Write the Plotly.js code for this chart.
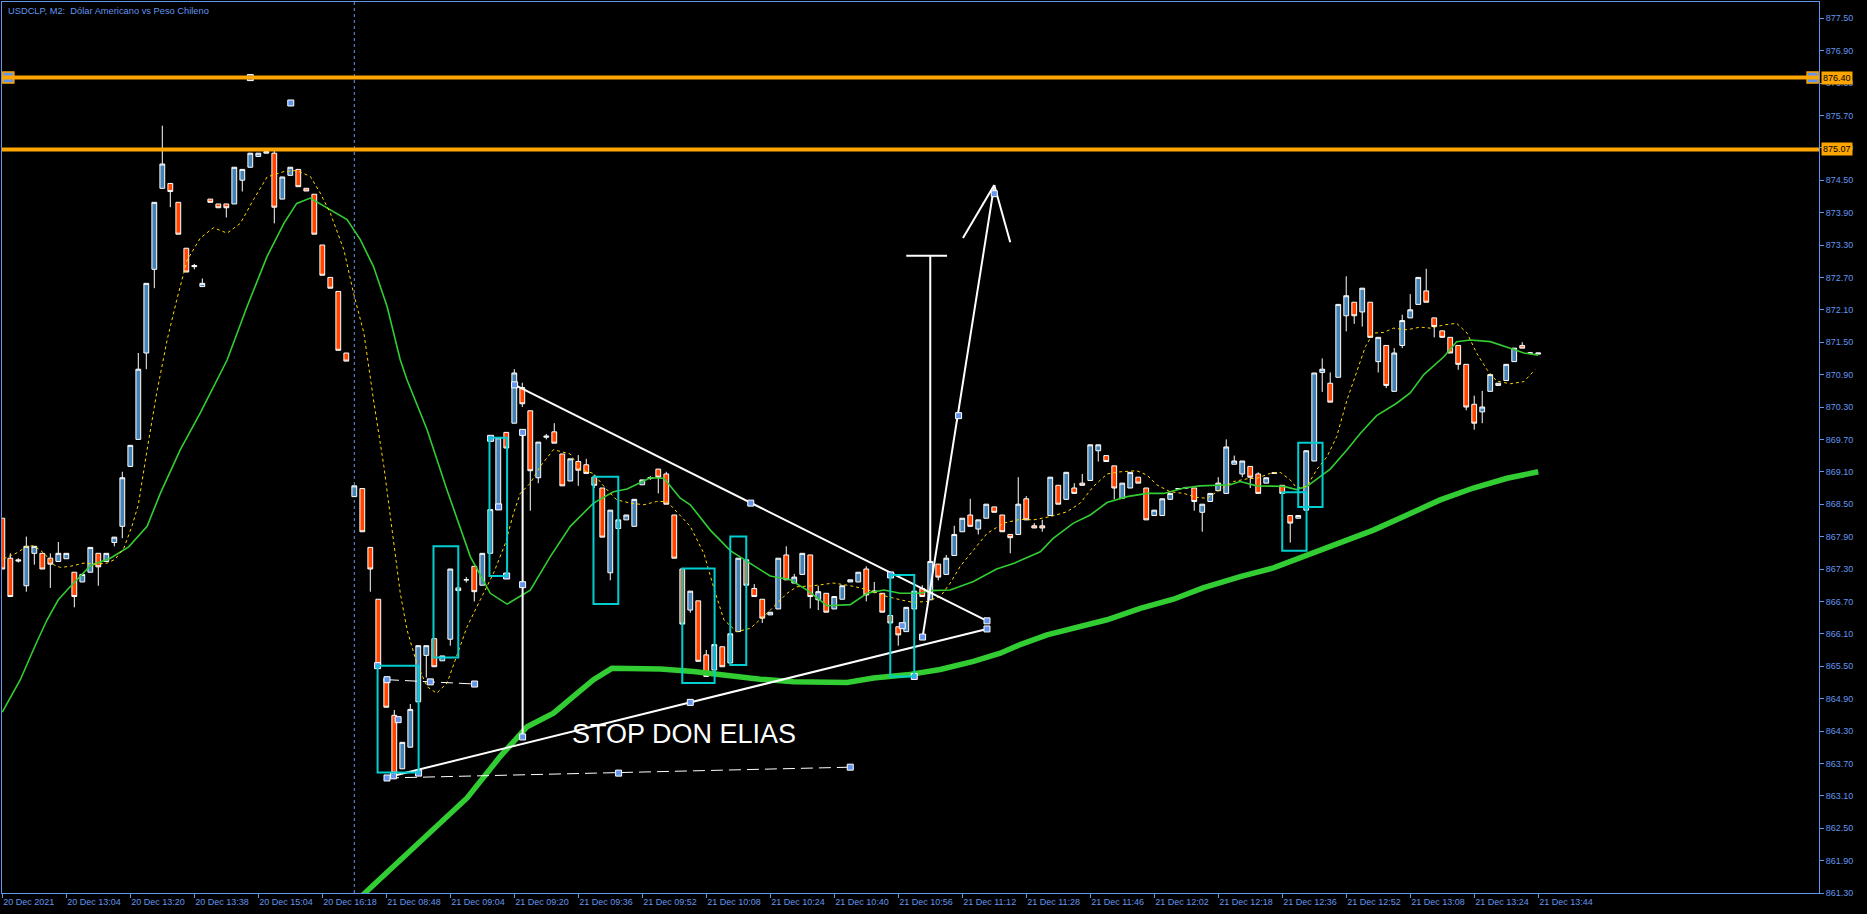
<!DOCTYPE html>
<html><head><meta charset="utf-8">
<script src="https://cdn.plot.ly/plotly-3.0.1.min.js"></script>
<style>html,body{margin:0;padding:0;background:#000;}#chart{width:1867px;height:914px;}</style>
</head><body><div id="chart"></div>
<script>
// ---------- candle data (bar index 0..192) ----------
const opens = [868.24,867.50,867.47,866.99,867.59,867.59,867.50,867.44,867.49,867.24,
867.06,867.24,867.59,867.44,867.79,868.09,869.20,869.70,871.30,872.85,
874.35,874.44,874.09,873.24,872.92,872.53,874.15,874.06,874.06,874.06,
874.50,874.74,874.94,875.00,875.00,874.15,874.59,874.70,874.35,874.24,
873.30,872.70,872.44,871.30,868.64,868.79,867.70,866.74,865.27,864.59,
863.60,864.00,864.84,865.70,866.01,865.60,866.00,866.95,867.10,867.35,
867.00,867.59,868.40,869.83,870.00,870.66,870.23,868.99,869.74,869.84,
869.43,868.93,869.29,869.23,869.00,868.80,867.23,868.05,868.21,868.09,
868.86,868.98,869.15,869.06,868.30,867.30,866.54,866.71,865.71,865.43,
865.86,865.56,866.14,867.47,866.94,866.74,866.45,866.56,867.56,867.04,
867.20,867.56,866.73,866.85,866.56,866.74,867.06,867.06,867.30,866.87,
866.85,866.44,866.23,866.14,866.56,866.94,866.73,867.39,867.20,867.55,
867.99,868.30,868.04,868.24,868.45,868.30,867.94,867.94,868.60,868.10,
868.10,868.29,868.85,868.59,868.80,868.89,868.94,869.49,869.40,869.21,
868.61,868.80,869.00,868.80,868.29,868.29,868.59,868.78,868.80,868.80,
868.35,868.55,868.75,868.70,869.24,869.06,869.20,869.06,868.89,869.07,
868.85,868.29,868.24,868.39,869.30,870.94,870.74,870.85,871.99,872.24,
872.06,872.24,871.14,871.44,870.59,871.44,871.95,872.20,872.45,871.95,
871.71,871.59,871.44,871.09,870.35,870.21,870.59,870.70,870.79,871.14,
871.44,871.30,871.28];
const highs = [868.24,867.59,867.50,867.90,867.72,867.59,867.59,867.80,867.59,867.24,
867.20,867.70,867.59,867.59,867.89,869.10,869.59,871.30,872.59,874.09,
875.51,874.44,874.09,873.24,872.95,872.68,874.15,874.06,874.06,874.74,
874.70,875.00,875.00,875.03,875.05,874.56,874.74,874.70,874.35,874.24,
873.30,872.70,872.44,871.30,868.84,868.79,867.70,866.74,865.27,864.69,
864.09,864.80,865.88,865.88,866.01,865.69,867.30,867.05,867.15,867.35,
867.59,868.40,869.73,869.83,871.00,870.75,870.23,869.65,869.80,870.00,
869.43,869.34,869.41,869.34,869.05,868.80,868.39,868.21,868.30,868.59,
868.95,869.02,869.15,869.10,868.30,867.30,866.89,866.71,865.80,865.90,
865.86,866.10,867.50,867.47,867.02,866.74,866.50,867.50,867.72,867.21,
867.59,867.56,866.99,866.85,866.79,866.99,867.10,867.24,867.35,867.06,
866.85,866.44,866.23,866.59,866.89,867.00,867.44,867.39,867.56,868.10,
868.24,868.60,868.21,868.50,868.45,868.30,867.94,869.00,868.65,868.15,
868.21,869.00,868.85,869.09,868.89,869.06,869.60,869.60,869.40,869.21,
868.89,869.09,869.00,868.80,868.39,868.60,868.70,868.80,868.82,868.80,
868.50,868.70,869.00,869.70,869.40,869.30,869.20,869.09,868.99,869.09,
868.85,868.29,868.29,869.49,870.93,871.20,870.94,872.20,872.72,872.24,
872.50,872.24,871.59,871.44,871.39,872.01,872.39,872.70,872.86,871.95,
871.71,871.59,871.44,871.09,870.51,870.60,870.90,870.74,871.09,871.39,
871.50,871.32,871.30];
const lows = [867.30,866.79,867.42,866.88,867.38,867.30,866.95,867.44,867.49,866.59,
867.06,867.24,866.99,867.44,867.72,867.87,869.20,869.70,871.00,872.50,
874.35,874.00,873.50,872.80,872.85,872.53,874.09,873.99,873.81,874.06,
874.29,874.74,874.94,875.00,873.70,874.15,874.59,874.38,874.30,873.50,
872.74,872.50,871.35,871.15,868.64,867.99,866.88,865.52,864.74,863.46,
863.60,864.00,864.84,865.29,865.49,865.60,865.88,866.85,867.05,866.70,
867.00,867.59,868.40,869.54,870.00,870.30,868.38,868.89,869.70,869.63,
868.84,868.93,868.84,869.07,868.80,867.89,867.09,868.05,868.21,868.09,
868.86,868.95,868.70,868.50,867.50,866.28,866.49,865.59,865.31,865.43,
865.49,865.56,866.14,867.00,866.79,866.30,866.45,866.56,867.10,867.04,
867.20,866.57,866.54,866.50,866.56,866.74,867.06,867.06,866.70,866.85,
866.50,866.30,865.88,866.14,866.56,866.79,866.73,867.09,867.20,867.55,
867.99,868.09,867.94,868.24,868.35,867.99,867.59,867.94,868.21,868.06,
867.99,868.29,868.50,868.59,868.70,868.85,868.94,869.29,869.29,868.59,
868.61,868.80,868.89,868.21,868.29,868.29,868.59,868.78,868.78,868.38,
867.99,868.55,868.75,868.70,869.24,869.00,868.80,868.70,868.89,869.07,
868.70,867.79,868.24,868.39,869.30,870.58,870.39,870.85,871.70,871.84,
871.79,871.59,870.94,870.65,870.59,871.39,871.95,872.20,872.24,871.59,
871.59,871.30,870.99,870.24,869.88,870.00,870.59,870.70,870.79,871.14,
871.39,871.28,871.28];
const closes = [867.30,866.79,867.45,867.72,867.72,867.30,867.39,867.59,867.59,866.79,
867.20,867.70,867.34,867.59,867.89,868.99,869.59,871.00,872.59,874.09,
874.80,874.29,873.50,872.80,872.90,872.59,874.09,873.99,873.99,874.74,
874.70,875.00,875.00,875.03,874.00,874.56,874.74,874.38,874.30,873.50,
872.74,872.50,871.35,871.15,868.84,867.99,867.30,865.52,864.74,863.52,
864.09,864.70,865.88,865.88,865.49,865.69,867.30,866.90,867.10,866.88,
867.59,868.40,869.73,869.54,870.93,870.36,869.12,869.65,869.76,869.63,
868.84,869.34,869.13,869.07,868.85,867.89,868.39,868.21,868.30,868.59,
868.95,868.99,869.00,868.50,867.50,866.28,866.89,865.59,865.31,865.90,
865.49,866.10,867.50,867.00,866.79,866.39,866.50,867.50,867.10,867.15,
867.59,866.79,866.88,866.50,866.79,866.99,867.10,867.24,866.82,866.89,
866.50,866.30,866.08,866.59,866.89,866.79,867.44,867.15,867.50,867.94,
868.24,868.09,868.21,868.50,868.35,867.99,867.88,868.50,868.21,868.06,
868.06,869.00,868.50,869.09,868.70,868.85,869.60,869.60,869.29,868.80,
868.89,869.09,868.89,868.21,868.39,868.60,868.70,868.79,868.81,868.55,
868.50,868.70,868.89,869.56,869.30,869.30,869.00,868.70,868.99,869.08,
868.70,868.15,868.29,869.49,870.93,871.00,870.39,872.20,872.36,871.99,
872.50,871.59,871.59,870.70,871.30,871.90,872.10,872.70,872.24,871.79,
871.59,871.30,871.09,870.30,870.00,870.30,870.90,870.74,871.09,871.39,
871.39,871.30,871.30];

// ---------- time axis labels (every 8 bars) ----------
const tickLabels = ["20 Dec 2021","20 Dec 13:04","20 Dec 13:20","20 Dec 13:38","20 Dec 15:04","20 Dec 16:18",
"21 Dec 08:48","21 Dec 09:04","21 Dec 09:20","21 Dec 09:36","21 Dec 09:52","21 Dec 10:08","21 Dec 10:24",
"21 Dec 10:40","21 Dec 10:56","21 Dec 11:12","21 Dec 11:28","21 Dec 11:46","21 Dec 12:02","21 Dec 12:18",
"21 Dec 12:36","21 Dec 12:52","21 Dec 13:08","21 Dec 13:24","21 Dec 13:44"];
const tickStep = 8;
const daySeparatorBar = 44;

// ---------- moving averages (read at sample bars) ----------
const fastMaX = [0.16,1.7,3.1,3.9,4.75,5.6,6.4,7.25,8.5,10.2,11.8,13.1,14.1,15.2,16.2,17.0,18.1,19.3,20.6,21.8,23.1,24.75,26.4,28.1,29.75,31.4,33.1,35.2,36.8,38.5,39.75,41,42.7,43.9,45.2,46.4,47.7,48.9,49.75,50.6,51.8,53.1,54.3,55.6,56.8,58.1,59.75,61.4,62.9,63.9,64.75,66,67.25,68.9,71,72.25,73.9,75.2,76.8,78.5,80.2,81.8,83.1,84.3,86,87.7,88.9,90.2,91.8,93.5,95.6,98.1,99.3,101.4,103.9,106,107.25,108.9,110.6,112.25,113.9,115.6,117.25,118.5,119.75,121.4,123.1,125.2,127.25,128.9,131,133.1,134.75,136.4,138.1,139.75,141.8,143.1,144.3,146,147.7,149.1,150.6,152.25,153.9,155.6,156.8,158.5,159.75,161,161.8,163.1,164.3,165.6,166.8,168.1,169.3,170.4,171.4,172.7,173.9,175.6,177.25,178.5,180.2,181.8,183.1,184.3,185.6,186.8,188.5,190.2,191.6];
const fastMaY = [867.49,867.59,867.72,867.73,867.65,867.53,867.38,867.33,867.35,867.41,867.39,867.41,867.48,867.69,868.09,868.49,869.51,870.56,871.54,872.28,873.02,873.43,873.62,873.52,873.70,874.14,874.56,874.66,874.68,874.57,874.26,873.89,873.21,872.41,871.67,870.43,869.20,867.84,866.85,866.17,865.56,865.12,865.00,865.19,865.68,866.23,866.73,867.22,867.78,868.33,868.70,868.89,869.20,869.51,869.43,869.14,869.07,868.83,868.58,868.52,868.49,868.55,868.55,868.36,868.09,867.59,866.97,866.36,866.14,866.20,866.48,866.85,866.97,866.99,867.04,866.99,866.95,866.88,866.79,866.73,866.68,866.70,866.79,867.04,867.35,867.65,867.96,868.15,868.22,868.21,868.27,868.36,868.52,868.83,869.06,869.10,869.12,869.04,868.86,868.73,868.70,868.63,868.61,868.77,868.92,868.97,868.98,869.07,869.09,868.95,868.80,868.83,869.14,869.38,869.75,870.43,870.93,871.42,871.67,871.68,871.76,871.73,871.78,871.76,871.82,871.85,871.67,871.30,870.99,870.78,870.73,870.77,870.99];

const midMaX = [0,2.25,4.25,5.6,7.0,8.1,11.0,13.5,15.8,18.1,19.75,22.25,24.75,28.1,30.6,33.1,35.2,36.8,38.5,40.6,43.1,44.75,46.4,48.1,49.75,50.6,53.1,55.6,58.5,61,63.1,66,68.5,71,73.9,76.4,78.1,81,82.7,84.75,86,88.5,91,93.1,96,98.5,100.6,103.1,106,108.1,110.2,112.25,114.75,116,118.5,121.4,124.3,126.4,129.75,131.4,133.9,136,138.1,140.6,143.1,145.2,147.7,149.75,153.5,154.75,156.8,160.2,161.8,163.1,166,168.1,169.75,171.8,174.3,176,177.7,180.2,181.8,183.5,186,188.5,190.2,192];
const midMaY = [864.65,865.25,865.93,866.36,866.73,866.91,867.36,867.50,867.71,868.09,868.70,869.51,870.19,871.17,872.16,873.09,873.70,874.07,874.17,873.98,873.77,873.40,872.90,872.16,871.17,870.80,869.88,868.76,867.53,866.85,866.65,866.91,867.53,868.09,868.52,868.73,868.78,868.99,868.98,868.61,868.49,868.02,867.64,867.44,867.17,867.10,866.91,866.62,866.64,866.85,866.91,866.85,866.85,866.90,866.91,867.07,867.30,867.40,867.62,867.87,868.15,868.30,868.53,868.64,868.70,868.70,868.80,868.84,868.86,868.92,868.84,868.83,868.77,868.83,869.15,869.51,869.81,870.14,870.37,870.56,870.90,871.23,871.51,871.54,871.51,871.39,871.30,871.26];

const slowMaX = [44,45.1,58.1,62.25,65.6,68.9,71.4,73.9,76.2,82.25,86.4,90.6,94.75,98.9,103.1,105.6,108.9,113.1,117.25,121.4,124.75,127.25,130.6,133.9,138.1,142.25,146.4,150.1,154.75,158.9,163.1,167.25,171.4,175.6,179.75,183.9,188.1,192];
const slowMaY = [861.11,861.27,863.06,863.83,864.38,864.63,864.94,865.25,865.46,865.45,865.40,865.32,865.26,865.21,865.19,865.20,865.28,865.34,865.44,865.59,865.74,865.90,866.08,866.20,866.36,866.57,866.74,866.95,867.16,867.32,867.56,867.78,868.02,868.30,868.58,868.80,868.98,869.10];

// ---------- drawn objects ----------
const hLevels = [876.40, 875.07];
const hLevelLabels = ["876.40", "875.07"];
// rectangles: bar index range and price range
const boxX0 = [46.91,53.9,60.9,73.9,85.0,91.0,111.0,160.0,162.0];
const boxX1 = [52.04,57.0,63.1,77.0,89.04,93.0,114.0,163.04,165.04];
const boxY0 = [865.51,867.72,869.73,869.01,867.31,867.90,867.19,868.72,869.64];
const boxY1 = [863.53,865.66,867.17,866.65,865.19,865.52,865.31,867.64,868.45];
// solid white lines (pairs of points)
const solidX = [[64.04,123.09],[48.91,123.09],[65.04,65.04],[116.0,116.0],[113.0,118.1],[115.04,124.0],[124.0,120.09],[124.0,126.0]];
const solidY = [[870.71,866.34],[863.47,866.19],[869.83,864.19],[873.10,867.43],[873.10,873.10],[866.04,874.41],[874.41,873.43],[874.41,873.35]];
// dashed white lines
const dashX = [[48.09,106.0],[48.09,59.04]];
const dashY = [[863.43,863.63],[865.25,865.17]];
// selection handles
const handleX = [48.09,77.04,106.0,48.09,53.5,59.04,46.91,52.04,49.48,61.04,63.04,62.04,111.04,114.0,112.5,65.04,65.04,65.04,64.04,93.56,123.09,48.91,86.0,123.09,115.04,119.54,124.0,31.0,36.06];
const handleY = [863.43,863.52,863.63,865.25,865.21,865.17,865.51,863.52,864.51,869.72,867.17,868.45,867.19,865.31,866.25,869.83,867.01,864.19,870.71,868.52,866.34,863.47,864.83,866.19,866.04,870.14,874.25,876.40,875.93];
const bigHandleX = [0.75, 226.3];
const bigHandleY = [876.40, 876.40];
const noteText = "STOP DON ELIAS";
const noteX = 71.0, noteY = 864.25;
const chartTitle = "USDCLP, M2:\u00a0\u00a0Dólar Americano vs Peso Chileno";

// ---------- build ----------
const bars = opens.map((_, i) => i);
const tickVals = tickLabels.map((_, k) => k * tickStep);
const axisBlue = '#6495ED';
const traces = [];
traces.push({
  type: 'candlestick', x: bars, open: opens, high: highs, low: lows, close: closes,
  increasing: {line: {color: '#FFFFFF', width: 1}, fillcolor: '#4682B4'},
  decreasing: {line: {color: '#FFFFFF', width: 1}, fillcolor: '#FF4500'},
  whiskerwidth: 0, hoverinfo: 'skip', showlegend: false
});
traces.push({type:'scatter', mode:'lines', x: slowMaX, y: slowMaY, line:{color:'#32CD32', width:5.5}, hoverinfo:'skip', showlegend:false});
traces.push({type:'scatter', mode:'lines', x: midMaX, y: midMaY, line:{color:'#32CD32', width:1.6}, hoverinfo:'skip', showlegend:false});
traces.push({type:'scatter', mode:'lines', x: fastMaX, y: fastMaY, line:{color:'#FFD700', width:1, dash:'dot'}, hoverinfo:'skip', showlegend:false});
solidX.forEach((xs, k) => traces.push({type:'scatter', mode:'lines', x: xs, y: solidY[k], line:{color:'#FFFFFF', width:2}, hoverinfo:'skip', showlegend:false}));
dashX.forEach((xs, k) => traces.push({type:'scatter', mode:'lines', x: xs, y: dashY[k], line:{color:'#FFFFFF', width:1, dash:'12px,6px'}, hoverinfo:'skip', showlegend:false}));

const shapes = [];
shapes.push({type:'line', xref:'x', yref:'paper', x0: daySeparatorBar, x1: daySeparatorBar, y0:0, y1:1, line:{color:axisBlue, width:1, dash:'3px,3px'}, layer:'below'});
hLevels.forEach(v => shapes.push({type:'line', xref:'paper', yref:'y', x0:0, x1:1, y0:v, y1:v, line:{color:'#FFA500', width:4}, layer:'above'}));
boxX0.forEach((x0, k) => shapes.push({type:'rect', xref:'x', yref:'y', x0: x0, x1: boxX1[k], y0: boxY0[k], y1: boxY1[k], line:{color:'#00CED1', width:2}, fillcolor:'rgba(0,0,0,0)', layer:'above'}));

traces.push({type:'scatter', mode:'markers', x: handleX, y: handleY, marker:{symbol:'square', size:6, color:axisBlue, line:{color:'#FFFFFF', width:1}}, hoverinfo:'skip', showlegend:false, cliponaxis:false});
traces.push({type:'scatter', mode:'markers', x: bigHandleX, y: bigHandleY, marker:{symbol:'square', size:11, color:axisBlue, line:{color:'#FFA500', width:1.5}}, hoverinfo:'skip', showlegend:false, cliponaxis:false});

const annotations = [];
annotations.push({xref:'paper', yref:'paper', x:0, y:1, xanchor:'left', yanchor:'top', xshift:4, yshift:-2, text: chartTitle, showarrow:false, font:{family:'Liberation Sans, Arial, sans-serif', size:9.3, color:axisBlue}});
annotations.push({xref:'x', yref:'y', x: noteX, y: noteY, xanchor:'left', yanchor:'middle', text: noteText, showarrow:false, font:{family:'Liberation Sans, Arial, sans-serif', size:27, color:'#FFFFFF'}});
hLevels.forEach((v, k) => annotations.push({xref:'paper', yref:'y', x:1, y:v, xanchor:'left', yanchor:'middle', xshift:2, text: hLevelLabels[k], showarrow:false, bgcolor:'#FFA500', borderpad:1, font:{family:'Liberation Sans, Arial, sans-serif', size:9, color:'#000000'}}));

const layout = {
  width: 1867, height: 914,
  margin: {l: 2, r: 48, t: 2, b: 21},
  paper_bgcolor: '#000000', plot_bgcolor: '#000000',
  showlegend: false, boxgap: 0.4, boxgroupgap: 0,
  font: {family: 'Liberation Sans, Arial, sans-serif', size: 9, color: axisBlue},
  xaxis: {type:'linear', range:[-0.04, 227.1], rangeslider:{visible:false}, showgrid:false, zeroline:false,
    tickmode:'array', tickvals: tickVals, ticktext: tickLabels, ticks:'outside', ticklen:4, tickcolor:axisBlue,
    ticklabelposition:'outside right', showline:true, mirror:true, linecolor:axisBlue, linewidth:1,
    tickfont:{size:9, color:axisBlue}},
  yaxis: {side:'right', range:[861.30, 877.80], showgrid:false, zeroline:false, tick0:861.9, dtick:0.6,
    tickformat:'.2f', ticks:'outside', ticklen:4, tickcolor:axisBlue, showline:true, mirror:true,
    linecolor:axisBlue, linewidth:1, tickfont:{size:9, color:axisBlue}},
  shapes: shapes, annotations: annotations
};
Plotly.newPlot('chart', traces, layout, {staticPlot:true, displayModeBar:false});
</script></body></html>
